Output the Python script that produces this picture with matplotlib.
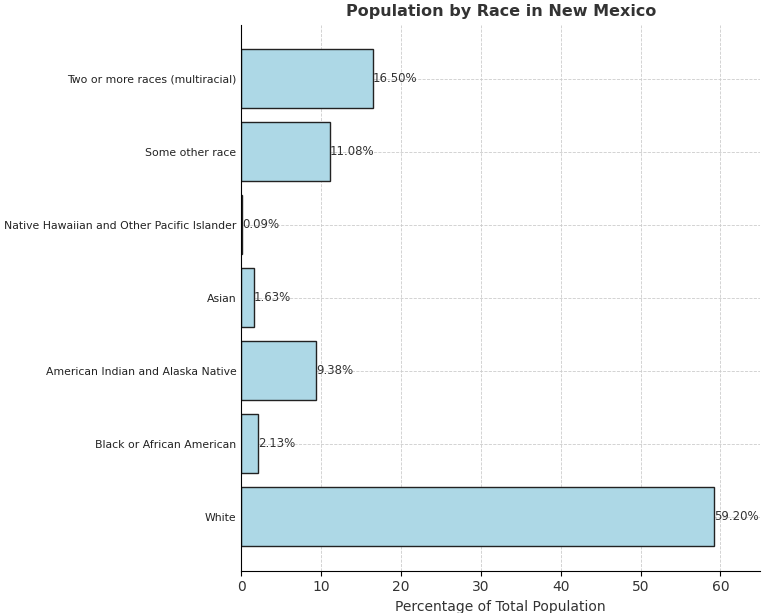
import matplotlib
matplotlib.use("Agg")
import matplotlib.pyplot as plt

categories = ["White", "Black or African American", "American Indian and Alaska Native",
              "Asian", "Native Hawaiian and Other Pacific Islander", "Some other race",
              "Two or more races (multiracial)"]
values = [59.20, 2.13, 9.38, 1.63, 0.09, 11.08, 16.50]

fig, ax = plt.subplots(figsize=(7.68, 6.13), dpi=100)
bars = ax.barh(categories, values, color="lightblue", edgecolor="#222222", zorder=2)
for b, v in zip(bars, values):
    ax.text(b.get_width(), b.get_y() + b.get_height() / 2, f"{v:.2f}%",
            va="center", ha="left", fontsize=8.5, color="#333333")
ax.set_xlim(0, 65)
ax.set_xlabel("Percentage of Total Population", fontsize=10, color="#333333")
ax.set_title("Population by Race in New Mexico", fontsize=11.5, fontweight="bold", color="#333333")
ax.grid(True, linestyle="--", color="#cccccc", linewidth=0.6, zorder=0)
ax.tick_params(axis="y", labelsize=7.8, length=0, labelcolor="#222222")
ax.tick_params(axis="x", labelsize=10, labelcolor="#333333")
for s in ["top", "right"]:
    ax.spines[s].set_visible(False)
plt.subplots_adjust(left=0.314, right=0.99, top=0.96, bottom=0.069)
fig.savefig("out.png")
